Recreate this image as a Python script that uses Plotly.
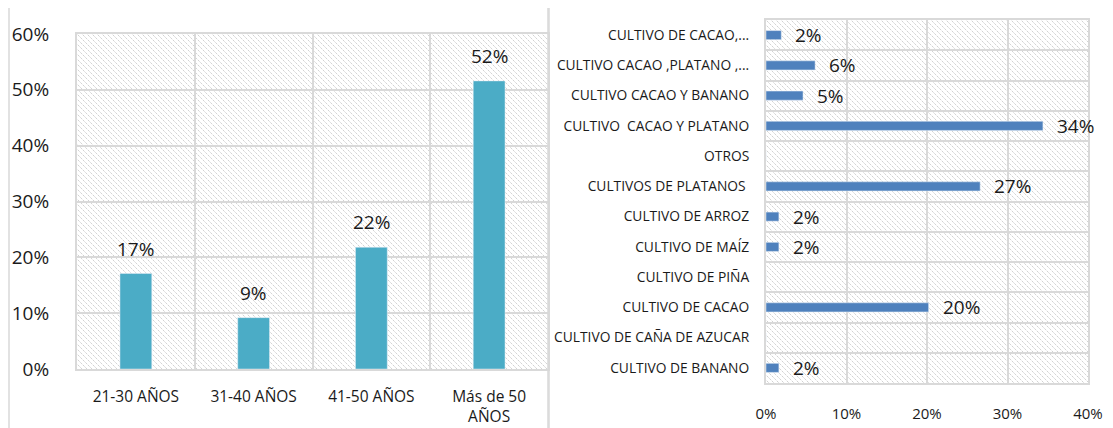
import base64
import plotly.graph_objects as go

# ---------------- data ----------------
age_groups = ["21-30 AÑOS", "31-40 AÑOS", "41-50 AÑOS", "Más de 50<br>AÑOS"]
age_values = [0.171, 0.092, 0.218, 0.516]

crops = [
    "CULTIVO DE CACAO,...",
    "CULTIVO CACAO ,PLATANO ,...",
    "CULTIVO CACAO Y BANANO",
    "CULTIVO\u00a0 CACAO Y PLATANO",
    "OTROS",
    "CULTIVOS DE PLATANOS\u00a0",
    "CULTIVO DE ARROZ",
    "CULTIVO DE MAÍZ",
    "CULTIVO DE PIÑA",
    "CULTIVO DE CACAO",
    "CULTIVO DE CAÑA DE AZUCAR",
    "CULTIVO DE BANANO",
]
crop_values = [0.019, 0.061, 0.046, 0.344, 0.0, 0.266, 0.016, 0.016, 0.0, 0.202, 0.0, 0.016]

left_ticks = [0, 0.1, 0.2, 0.3, 0.4, 0.5, 0.6]
right_ticks = [0, 0.1, 0.2, 0.3, 0.4]

# ---------------- style ----------------
OFF = 8                      # page body margin
W, H = 1113 - OFF, 428 - OFF
FONT = "Open Sans"
GRID = "#d9d9d9"
TXT = "#1a1a1a"

# plot areas in window pixels (left, top, right, bottom)
L_AREA = (77, 34, 548, 369)
R_AREA = (766, 20, 1088, 383)


def px(x):
    return (x - OFF) / W


def py(y):
    return (H - (y - OFF)) / H


def dom_x(a):
    return [px(a[0]), px(a[2])]


def dom_y(a):
    return [py(a[3]), py(a[1])]


def hatch_uri(w, h):
    svg = (
        f'<svg xmlns="http://www.w3.org/2000/svg" width="{w}" height="{h}" viewBox="0 0 {w} {h}">'
        '<defs><pattern id="p" width="5" height="5" patternUnits="userSpaceOnUse">'
        '<path d="M-1,-1 L6,6 M-1,4 L1,6 M4,-1 L6,1" stroke="#c2c2c2" stroke-width="1" '
        'stroke-dasharray="1.4,1.1"/>'
        '</pattern></defs>'
        f'<rect width="{w}" height="{h}" fill="white"/>'
        f'<rect width="{w}" height="{h}" fill="url(#p)"/></svg>'
    )
    return "data:image/svg+xml;base64," + base64.b64encode(svg.encode()).decode()


fig = go.Figure()

fig.add_trace(go.Bar(
    x=age_groups, y=age_values, marker_color="#4bacc6", width=0.27,
    xaxis="x", yaxis="y", hoverinfo="skip",
))
fig.add_trace(go.Bar(
    y=crops, x=crop_values, orientation="h", marker_color="#4f81bd", width=0.3,
    xaxis="x2", yaxis="y2", hoverinfo="skip",
))

annotations = []
for c, v in zip(age_groups, age_values):
    annotations.append(dict(
        x=c, y=v, xref="x", yref="y", text=f"{round(v*100):.0f}%", showarrow=False,
        yanchor="bottom", yshift=10, font=dict(family=FONT, size=19, color=TXT),
    ))
for c, v in zip(crops, crop_values):
    if v > 0:
        annotations.append(dict(
            x=v, y=c, xref="x2", yref="y2", text=f"{round(v*100):.0f}%", showarrow=False,
            xanchor="left", xshift=12, font=dict(family=FONT, size=19, color=TXT),
        ))

images = [
    dict(source=hatch_uri(L_AREA[2] - L_AREA[0], L_AREA[3] - L_AREA[1]),
         xref="x domain", yref="y domain", x=0, y=1, sizex=1, sizey=1,
         xanchor="left", yanchor="top", sizing="stretch", layer="below"),
    dict(source=hatch_uri(R_AREA[2] - R_AREA[0], R_AREA[3] - R_AREA[1]),
         xref="x2 domain", yref="y2 domain", x=0, y=1, sizex=1, sizey=1,
         xanchor="left", yanchor="top", sizing="stretch", layer="below"),
]

shapes = [
    dict(type="rect", xref="paper", yref="paper", x0=px(9), x1=px(548), y0=-0.05, y1=py(5.5),
         line=dict(color=GRID, width=1.5), layer="above"),
    dict(type="rect", xref="paper", yref="paper", x0=px(549), x1=1.05, y0=-0.05, y1=py(5.5),
         line=dict(color=GRID, width=1.5), layer="above"),
]

axis_common = dict(
    showgrid=True, gridcolor=GRID, gridwidth=2, ticks="", showline=True, linecolor=GRID,
    linewidth=2, mirror=True, automargin=False, fixedrange=True,
)

fig.update_layout(
    width=W, height=H,
    margin=dict(l=0, r=0, t=0, b=0, autoexpand=False),
    paper_bgcolor="white", plot_bgcolor="rgba(0,0,0,0)",
    showlegend=False,
    font=dict(family=FONT, color=TXT),
    annotations=annotations, images=images, shapes=shapes,
    xaxis=dict(
        domain=dom_x(L_AREA), anchor="y", type="category", tickson="boundaries",
        tickfont=dict(family=FONT, size=15.5, color=TXT), ticklabelstandoff=12, **axis_common,
    ),
    yaxis=dict(
        domain=dom_y(L_AREA), anchor="x", range=[0, 0.6], tickvals=left_ticks, tickformat=".0%",
        zeroline=False, tickfont=dict(family=FONT, size=19, color=TXT),
        ticklabelstandoff=22, **axis_common,
    ),
    xaxis2=dict(
        domain=dom_x(R_AREA), anchor="y2", range=[0, 0.4], tickvals=right_ticks, tickformat=".0%",
        zeroline=False, tickfont=dict(family=FONT, size=15, color=TXT),
        ticklabelstandoff=16, **axis_common,
    ),
    yaxis2=dict(
        domain=dom_y(R_AREA), anchor="x2", type="category", autorange="reversed",
        tickson="boundaries", tickfont=dict(family=FONT, size=13.8, color=TXT),
        ticklabelstandoff=12, **axis_common,
    ),
)

fig.write_html("out.html")
